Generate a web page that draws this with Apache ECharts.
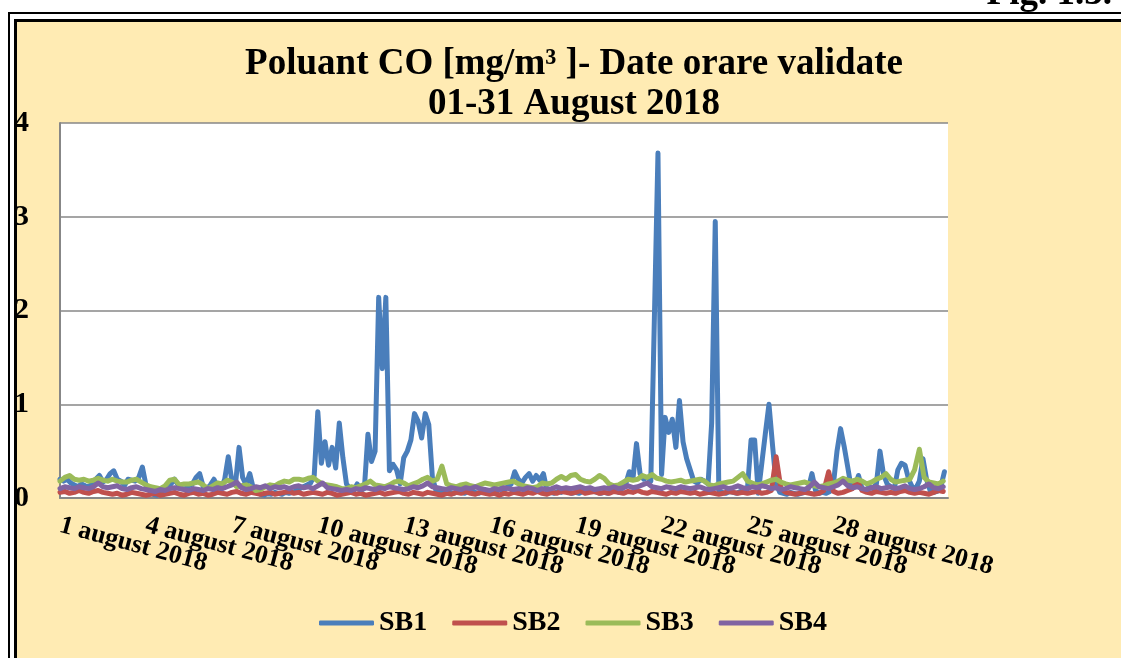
<!DOCTYPE html>
<html>
<head>
<meta charset="utf-8">
<title>Poluant CO - August 2018</title>
<script src="https://cdn.jsdelivr.net/npm/echarts@6.0.0/dist/echarts.min.js"></script>
<style>
  html, body { margin: 0; padding: 0; background: #fff; }
  #chart { width: 1121px; height: 658px; }
</style>
</head>
<body>
<div id="chart"></div>
<script>
// hourly CO values, SB1 every 3 hours, the others every 4 hours
const SB1_STEP = 3;
const SB_STEP = 4;

const sb1 = [
  0.2, 0.18, 0.2, 0.16, 0.14, 0.12, 0.15, 0.13,
  0.12, 0.15, 0.2, 0.24, 0.17, 0.2, 0.26, 0.29,
  0.2, 0.18, 0.13, 0.2, 0.19, 0.18, 0.22, 0.33,
  0.14, 0.08, 0.04, 0.03, 0.05, 0.08, 0.12, 0.15,
  0.2, 0.14, 0.1, 0.1, 0.13, 0.15, 0.22, 0.26,
  0.12, 0.1, 0.14, 0.2, 0.12, 0.1, 0.2, 0.44,
  0.18, 0.14, 0.54, 0.22, 0.14, 0.26, 0.1, 0.06,
  0.04, 0.03, 0.05, 0.04, 0.06, 0.05, 0.04, 0.06,
  0.05, 0.06, 0.08, 0.1, 0.12, 0.14, 0.16, 0.24,
  0.92, 0.37, 0.6, 0.35, 0.54, 0.32, 0.8, 0.43,
  0.15, 0.1, 0.08, 0.15, 0.08, 0.1, 0.68, 0.39,
  0.5, 2.14, 1.38, 2.14, 0.29, 0.36, 0.3, 0.15,
  0.43, 0.5, 0.62, 0.9, 0.82, 0.64, 0.9, 0.78,
  0.22, 0.08, 0.06, 0.05, 0.07, 0.06, 0.05, 0.07,
  0.06, 0.05, 0.07, 0.08, 0.06, 0.05, 0.07, 0.06,
  0.08, 0.06, 0.07, 0.1, 0.08, 0.12, 0.15, 0.28,
  0.2, 0.16, 0.22, 0.26, 0.18, 0.24, 0.19, 0.26,
  0.08, 0.06, 0.05, 0.07, 0.06, 0.08, 0.06, 0.05,
  0.06, 0.05, 0.07, 0.06, 0.08, 0.07, 0.06, 0.05,
  0.06, 0.05, 0.07, 0.08, 0.06, 0.1, 0.15, 0.28,
  0.2, 0.58, 0.26, 0.2, 0.22, 0.18, 1.92, 3.68,
  0.25, 0.86, 0.7, 0.84, 0.54, 1.04, 0.6, 0.42,
  0.3, 0.18, 0.16, 0.2, 0.18, 0.15, 0.8, 2.95,
  0.08, 0.06, 0.05, 0.07, 0.06, 0.05, 0.07, 0.06,
  0.1, 0.62, 0.62, 0.05, 0.37, 0.69, 1.0, 0.56,
  0.15, 0.06, 0.05, 0.04, 0.06, 0.05, 0.04, 0.05,
  0.06, 0.1, 0.26, 0.08, 0.05, 0.06, 0.05, 0.07,
  0.15, 0.5, 0.74, 0.55, 0.33, 0.1, 0.12, 0.24,
  0.1, 0.08, 0.12, 0.1, 0.15, 0.5, 0.25, 0.15,
  0.12, 0.1, 0.3, 0.37, 0.35, 0.2, 0.12, 0.1,
  0.18, 0.42, 0.2, 0.08, 0.06, 0.07, 0.12, 0.28
];

const sb2 = [
  0.06, 0.07, 0.05, 0.06, 0.08, 0.06,
  0.05, 0.07, 0.08, 0.06, 0.05, 0.04,
  0.05, 0.03, 0.04, 0.06, 0.05, 0.04,
  0.03, 0.04, 0.05, 0.03, 0.04, 0.05,
  0.06, 0.04, 0.03, 0.05, 0.06, 0.04,
  0.05, 0.03, 0.04, 0.06, 0.05, 0.04,
  0.06, 0.07, 0.05, 0.04, 0.06, 0.05,
  0.04, 0.05, 0.06, 0.04, 0.05, 0.06,
  0.07, 0.05, 0.06, 0.04, 0.05, 0.06,
  0.05, 0.04, 0.06, 0.05, 0.03, 0.04,
  0.05, 0.06, 0.04, 0.05, 0.03, 0.04,
  0.05, 0.06, 0.04, 0.05, 0.06, 0.07,
  0.05, 0.04, 0.06, 0.05, 0.04, 0.06,
  0.05, 0.04, 0.03, 0.05, 0.04, 0.06,
  0.05, 0.07, 0.05, 0.04, 0.06, 0.05,
  0.04, 0.05, 0.03, 0.05, 0.04, 0.06,
  0.05, 0.04, 0.06, 0.05, 0.07, 0.05,
  0.04, 0.06, 0.05, 0.07, 0.06, 0.05,
  0.06, 0.08, 0.05, 0.06, 0.07, 0.05,
  0.06, 0.05, 0.07, 0.06, 0.05, 0.07,
  0.06, 0.08, 0.06, 0.05, 0.07, 0.06,
  0.05, 0.04, 0.06, 0.05, 0.07, 0.06,
  0.05, 0.06, 0.04, 0.05, 0.06, 0.05,
  0.04, 0.05, 0.07, 0.06, 0.05, 0.06,
  0.05, 0.06, 0.07, 0.05, 0.06, 0.08,
  0.44, 0.1, 0.06, 0.05, 0.04, 0.05,
  0.06, 0.05, 0.04, 0.05, 0.08, 0.28,
  0.07, 0.05, 0.06, 0.08, 0.1, 0.18,
  0.08, 0.06, 0.05, 0.07, 0.06, 0.05,
  0.06, 0.05, 0.07, 0.08, 0.06, 0.05,
  0.06, 0.05, 0.04, 0.06, 0.08, 0.07
];

const sb3 = [
  0.18, 0.22, 0.24, 0.2, 0.19, 0.2,
  0.18, 0.19, 0.21, 0.19, 0.18, 0.2,
  0.18, 0.17, 0.17, 0.19, 0.2, 0.17,
  0.14, 0.12, 0.11, 0.1, 0.13, 0.19,
  0.2, 0.14, 0.15, 0.15, 0.16, 0.17,
  0.14, 0.1, 0.13, 0.16, 0.15, 0.19,
  0.17, 0.12, 0.13, 0.14, 0.12, 0.08,
  0.09, 0.12, 0.14, 0.13, 0.16, 0.18,
  0.17, 0.2, 0.2, 0.19, 0.21, 0.22,
  0.18, 0.15, 0.14, 0.13, 0.12, 0.1,
  0.1, 0.12, 0.11, 0.13, 0.15, 0.18,
  0.14, 0.13, 0.12, 0.14, 0.17, 0.18,
  0.16, 0.13, 0.15, 0.17, 0.2, 0.22,
  0.18, 0.2, 0.34, 0.15, 0.13, 0.12,
  0.14, 0.15, 0.13, 0.12, 0.14, 0.16,
  0.15, 0.14, 0.15, 0.16, 0.17, 0.18,
  0.15, 0.13, 0.12, 0.11, 0.12, 0.16,
  0.15, 0.16, 0.2, 0.23, 0.2, 0.24,
  0.25, 0.2, 0.18, 0.17, 0.2, 0.24,
  0.21, 0.15, 0.13, 0.14, 0.17, 0.2,
  0.19, 0.2, 0.24, 0.22, 0.25, 0.21,
  0.2, 0.18, 0.17, 0.18, 0.19, 0.17,
  0.18, 0.19, 0.2, 0.18, 0.14, 0.13,
  0.15, 0.16, 0.17, 0.18, 0.22, 0.26,
  0.18, 0.16, 0.14, 0.15, 0.17, 0.19,
  0.2, 0.17, 0.15, 0.14, 0.15, 0.16,
  0.17, 0.15, 0.13, 0.12, 0.13, 0.15,
  0.16, 0.18, 0.21, 0.19, 0.18, 0.2,
  0.18, 0.15, 0.17, 0.2, 0.22, 0.26,
  0.2, 0.17, 0.18, 0.19, 0.2, 0.3,
  0.52, 0.22, 0.17, 0.16, 0.15, 0.18
];

const sb4 = [
  0.1, 0.12, 0.11, 0.1, 0.12, 0.11,
  0.1, 0.12, 0.16, 0.12, 0.11, 0.12,
  0.13, 0.1, 0.09, 0.11, 0.12, 0.1,
  0.09, 0.08, 0.07, 0.09, 0.08, 0.1,
  0.11, 0.1, 0.09, 0.08, 0.1, 0.09,
  0.08, 0.1, 0.09, 0.11, 0.1, 0.12,
  0.14, 0.17, 0.11, 0.09, 0.1, 0.12,
  0.11, 0.13, 0.1, 0.12, 0.11, 0.12,
  0.1, 0.12, 0.13, 0.11, 0.12, 0.1,
  0.13, 0.16, 0.11, 0.1, 0.09, 0.08,
  0.09, 0.08, 0.1, 0.09, 0.11, 0.1,
  0.09, 0.11, 0.1, 0.12, 0.11, 0.1,
  0.09, 0.1, 0.12, 0.11, 0.13, 0.16,
  0.12, 0.11, 0.1, 0.09, 0.11, 0.1,
  0.09, 0.11, 0.1, 0.12, 0.1, 0.09,
  0.08, 0.1, 0.09, 0.11, 0.1, 0.09,
  0.1, 0.09, 0.11, 0.1, 0.08, 0.1,
  0.09, 0.1, 0.12, 0.1, 0.11, 0.1,
  0.11, 0.12, 0.1, 0.11, 0.09, 0.1,
  0.11, 0.1, 0.12, 0.1, 0.11, 0.13,
  0.11, 0.12, 0.14, 0.16, 0.12, 0.11,
  0.1, 0.12, 0.11, 0.1, 0.12, 0.11,
  0.1, 0.11, 0.12, 0.1, 0.09, 0.1,
  0.11, 0.12, 0.1, 0.11, 0.13, 0.11,
  0.1, 0.12, 0.11, 0.13, 0.12, 0.1,
  0.11, 0.09, 0.1, 0.12, 0.11, 0.1,
  0.09, 0.12, 0.17, 0.12, 0.11, 0.1,
  0.12, 0.14, 0.18, 0.13, 0.11, 0.12,
  0.1, 0.09, 0.11, 0.12, 0.1, 0.11,
  0.12, 0.1, 0.11, 0.13, 0.1, 0.09,
  0.1, 0.12, 0.15, 0.11, 0.1, 0.12
];

const seriesNames = ["SB1", "SB2", "SB3", "SB4"];
const yTicks = [0, 1, 2, 3, 4];
const labelDays = [1, 4, 7, 10, 13, 16, 19, 22, 25, 28];

const FONT = "'Liberation Serif', 'Times New Roman', serif";
const colors = ["#4a7ebb", "#c0504d", "#9bbb59", "#8064a2"];

function lineSeries(name, color, values, step) {
  return {
    name: name,
    type: "line",
    symbol: "none",
    xAxisIndex: 0,
    data: values.map((v, i) => [i * step, v]),
    lineStyle: { color: color, width: 5, cap: "round", join: "round" },
    itemStyle: { color: color },
    emphasis: { disabled: true },
  };
}

// the first date label overlaps the second one, echarts would drop one of them,
// so the first one lives on its own (lineless) copy of the axis
function dateAxis(keep, showLine) {
  return {
    type: "value",
    min: 0,
    max: 744,
    interval: 72,
    position: "bottom",
    axisLine: { show: showLine, lineStyle: { color: "#878787", width: 2 } },
    axisTick: { show: false },
    splitLine: { show: false },
    axisLabel: {
      rotate: -15,
      margin: 27,
      fontFamily: FONT, fontWeight: "bold", fontSize: 26, color: "#000",
      formatter: function (v) {
        const day = v / 24 + 1;
        return keep(day) && labelDays.indexOf(day) >= 0 ? day + " august 2018" : "";
      },
    },
  };
}

const chart = echarts.init(document.getElementById("chart"));

const option = {
  animation: false,
  backgroundColor: "#fff",
  graphic: [
    {
      type: "rect", z: -10,
      shape: { x: 9, y: 13, width: 1300, height: 800 },
      style: { fill: "#fff", stroke: "#000", lineWidth: 2 },
    },
    {
      type: "rect", z: -9,
      shape: { x: 15.5, y: 20.5, width: 1300, height: 800 },
      style: { fill: "#ffebb3", stroke: "#000", lineWidth: 3 },
    },
    {
      type: "text", z: 5, x: 1112, y: 13,
      style: {
        text: "Fig. 1.3.", fill: "#000",
        font: "bold 37px " + FONT,
        align: "right", verticalAlign: "bottom",
      },
    },
  ],
  title: {
    text: "Poluant CO [mg/m³ ]- Date orare validate\n01-31 August 2018",
    left: 569,
    top: 39,
    textAlign: "center",
    textStyle: {
      fontFamily: FONT, fontWeight: "bold", fontSize: 37, lineHeight: 40, color: "#000",
    },
  },
  legend: {
    data: seriesNames,
    left: 314,
    top: 604,
    icon: "roundRect",
    itemWidth: 55,
    itemHeight: 5,
    itemGap: 25,
    textStyle: { fontFamily: FONT, fontWeight: "bold", fontSize: 28, color: "#000" },
  },
  grid: {
    left: 60, right: 173, top: 123, bottom: 160,
    show: true, backgroundColor: "#fff", borderWidth: 0,
  },
  xAxis: [
    dateAxis(function (d) { return d > 1; }, true),
    dateAxis(function (d) { return d === 1; }, false),
  ],
  yAxis: {
    type: "value",
    min: yTicks[0],
    max: yTicks[yTicks.length - 1],
    interval: 1,
    axisLine: { show: true, lineStyle: { color: "#878787", width: 2 } },
    axisTick: { show: false },
    splitLine: { lineStyle: { color: "#878787", width: 1.5 } },
    axisLabel: {
      margin: 31,
      fontFamily: FONT, fontWeight: "bold", fontSize: 30, color: "#000",
    },
  },
  series: [
    lineSeries(seriesNames[0], colors[0], sb1, SB1_STEP),
    lineSeries(seriesNames[1], colors[1], sb2, SB_STEP),
    lineSeries(seriesNames[2], colors[2], sb3, SB_STEP),
    lineSeries(seriesNames[3], colors[3], sb4, SB_STEP),
  ],
};

chart.setOption(option);
</script>
</body>
</html>
